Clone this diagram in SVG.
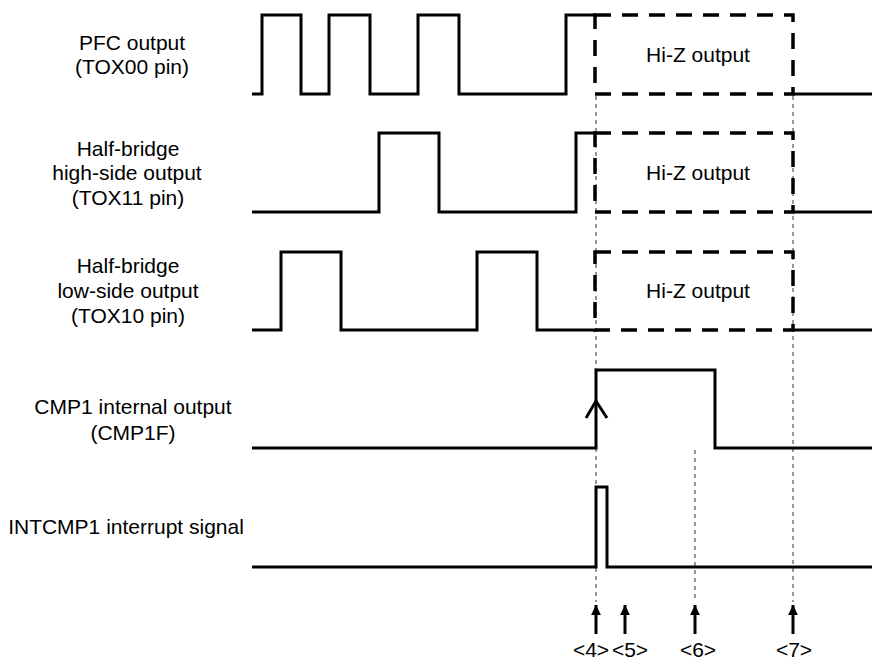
<svg xmlns="http://www.w3.org/2000/svg" width="872" height="665" viewBox="0 0 872 665">
<style>
text{font-family:"Liberation Sans",Arial,sans-serif;font-size:21px;fill:#000;text-anchor:middle}
.sig{fill:none;stroke:#000;stroke-width:3;stroke-linejoin:miter}
.hiz{fill:none;stroke:#000;stroke-width:3.5;stroke-dasharray:16 11}
.guide{fill:none;stroke:#333;stroke-width:1;stroke-dasharray:4 4}
.arr{fill:none;stroke:#000;stroke-width:3}
</style>
<defs>
<marker id="ah" viewBox="0 0 10 10" refX="10" refY="5" markerWidth="3.3" markerHeight="3.3" markerUnits="strokeWidth" orient="auto">
<path d="M0,0 L10,5 L0,10 Z" fill="#000"/>
</marker>
</defs>
<rect width="872" height="665" fill="#fff"/>
<g id="connectors">
<line class="guide" x1="596" y1="96" x2="596" y2="602"/>
<line class="guide" x1="793" y1="96" x2="793" y2="602"/>
<line class="guide" x1="695" y1="450" x2="695" y2="602"/>
<line class="arr" x1="596" y1="634" x2="596" y2="605" marker-end="url(#ah)"/>
<line class="arr" x1="625" y1="634" x2="625" y2="605" marker-end="url(#ah)"/>
<line class="arr" x1="695" y1="634" x2="695" y2="605" marker-end="url(#ah)"/>
<line class="arr" x1="793" y1="634" x2="793" y2="605" marker-end="url(#ah)"/>
</g>
<g id="pfc">
<text x="132" y="50">PFC output</text>
<text x="132" y="74">(TOX00 pin)</text>
<path class="sig" d="M252,94 H262 V15 H301 V94 H329 V15 H370 V94 H418 V15 H459 V94 H566 V15 H596"/>
<rect class="hiz" x="595" y="15" width="198" height="79"/>
<path class="sig" d="M793,94 H872"/>
<text x="698" y="62">Hi-Z output</text>
</g>
<g id="high-side">
<text x="128" y="156">Half-bridge</text>
<text x="127" y="180">high-side output</text>
<text x="128" y="205">(TOX11 pin)</text>
<path class="sig" d="M252,212 H379 V133 H439 V212 H576 V133 H596"/>
<rect class="hiz" x="595" y="133" width="198" height="79"/>
<path class="sig" d="M793,212 H872"/>
<text x="698" y="180">Hi-Z output</text>
</g>
<g id="low-side">
<text x="128" y="273">Half-bridge</text>
<text x="128" y="298">low-side output</text>
<text x="128" y="323">(TOX10 pin)</text>
<path class="sig" d="M252,330 H281 V252 H341 V330 H477 V252 H537 V330 H596"/>
<rect class="hiz" x="595" y="252" width="198" height="78"/>
<path class="sig" d="M793,330 H872"/>
<text x="698" y="298">Hi-Z output</text>
</g>
<g id="cmp1f">
<text x="133" y="414">CMP1 internal output</text>
<text x="133" y="440">(CMP1F)</text>
<path class="sig" d="M252,448 H596 V370 H715 V448 H872"/>
<path class="sig" d="M586,418 L596,401 L607,418"/>
</g>
<g id="intcmp1">
<text x="126" y="534">INTCMP1 interrupt signal</text>
<path class="sig" d="M252,567 H596 V487 H607 V567 H872"/>
</g>
<g id="labels">
<text x="591" y="657">&lt;4&gt;</text>
<text x="630" y="657">&lt;5&gt;</text>
<text x="698" y="657">&lt;6&gt;</text>
<text x="794" y="657">&lt;7&gt;</text>
</g>
</svg>
